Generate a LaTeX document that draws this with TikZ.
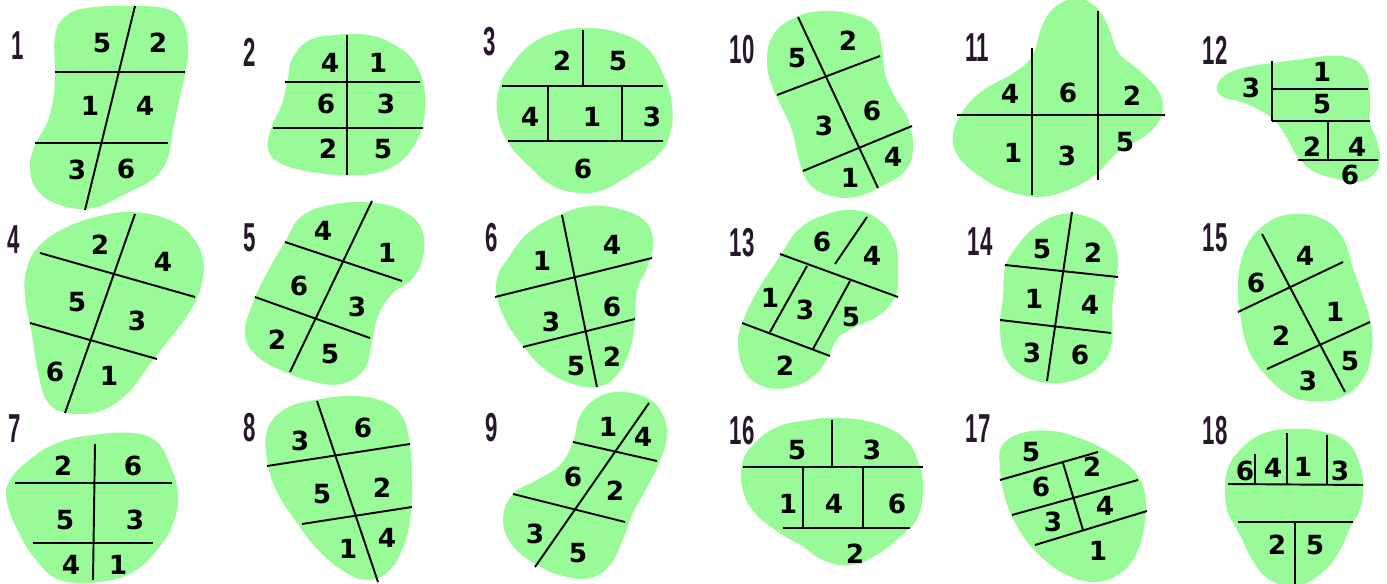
\documentclass[tikz,border=0pt]{standalone}
\usepackage{fontspec}
\newfontfamily\dvfont{DejaVu Sans}
\newfontfamily\lsfont{Liberation Sans}
\definecolor{pg}{RGB}{152,251,152}
\definecolor{labcol}{RGB}{40,22,44}
\tikzset{
  blob/.style={fill=pg, draw=none},
  cut/.style={line width=1.1pt, black},
  num/.style={font=\dvfont\bfseries\fontsize{15}{15}\selectfont, inner sep=0pt, text=black},
  lab/.style={font=\lsfont\bfseries\fontsize{23}{23}\selectfont, inner sep=0pt, text=labcol, xscale=0.55}
}
\begin{document}
\begin{tikzpicture}[x=0.02cm,y=-0.02cm]
\useasboundingbox (0,0) rectangle (1387,584);
% ---------- blob 1
\fill[blob] plot[smooth cycle, tension=0.7] coordinates {(55,36) (65,17) (87,8) (133,6) (167,9) (183,22) (188,48) (185,74) (180,97) (173,130) (167,160) (153,179) (127,193) (93,208) (60,205) (37,190) (30,167) (35,145) (47,123) (53,100) (55,74)};
\draw[cut] (55,72) -- (185,72);
\draw[cut] (35,143) -- (168,143);
\draw[cut] (135,6) -- (85,210);
\node[lab] (l1) at (18,46) {1};
\node[num] (b1n5) at (102,43) {5};
\node[num] (b1n2) at (158,43) {2};
\node[num] (b1n1) at (90,106) {1};
\node[num] (b1n4) at (145,106) {4};
\node[num] (b1n3) at (77,170) {3};
\node[num] (b1n6) at (126,169) {6};
% ---------- blob 4
\fill[blob] plot[smooth cycle, tension=0.7] coordinates {(100,216) (133,212) (167,219) (190,234) (203,260) (200,290) (187,316) (167,342) (147,368) (127,394) (100,411) (67,413) (47,401) (38,372) (32,335) (25,297) (27,268) (40,245) (67,227)};
\draw[cut] (40,253) -- (195,297);
\draw[cut] (30,323) -- (157,359);
\draw[cut] (135,214) -- (65,413);
\node[lab] (l4) at (14,240) {4};
\node[num] (b4n2) at (100,245) {2};
\node[num] (b4n4) at (163,262) {4};
\node[num] (b4n5) at (77,302) {5};
\node[num] (b4n3) at (137,321) {3};
\node[num] (b4n6) at (55,372) {6};
\node[num] (b4n1) at (109,376) {1};
% ---------- blob 7
\fill[blob] plot[smooth cycle, tension=0.7] coordinates {(93,435) (133,433) (157,442) (170,465) (178,494) (173,524) (157,550) (133,572) (100,582) (60,580) (37,561) (20,535) (7,502) (10,480) (33,457) (60,442)};
\draw[cut] (15,483) -- (172,483);
\draw[cut] (33,543) -- (153,543);
\draw[cut] (95,444) -- (93,580);
\node[lab] (l7) at (15,429) {7};
\node[num] (b7n2) at (63,466) {2};
\node[num] (b7n6) at (133,466) {6};
\node[num] (b7n5) at (65,520) {5};
\node[num] (b7n3) at (135,520) {3};
\node[num] (b7n4) at (71,565) {4};
\node[num] (b7n1) at (118,565) {1};
% ---------- blob 2
\fill[blob] plot[smooth cycle, tension=0.7] coordinates {(292,59) (308,41) (335,35) (368,35) (395,45) (415,63) (425,93) (423,123) (412,149) (392,167) (362,175) (318,173) (282,164) (268,149) (272,126) (282,104) (288,78)};
\draw[cut] (285,82) -- (420,82);
\draw[cut] (273,128) -- (423,128);
\draw[cut] (347,35) -- (347,175);
\node[lab] (l2) at (250,52) {2};
\node[num] (b2n4) at (330,63) {4};
\node[num] (b2n1) at (378,63) {1};
\node[num] (b2n6) at (326,104) {6};
\node[num] (b2n3) at (386,104) {3};
\node[num] (b2n2) at (328,149) {2};
\node[num] (b2n5) at (383,149) {5};
% ---------- blob 5
\fill[blob] plot[smooth cycle, tension=0.7] coordinates {(302,216) (335,204) (375,203) (405,212) (422,230) (423,257) (412,279) (392,294) (378,316) (372,342) (365,368) (345,383) (318,383) (285,372) (258,357) (245,335) (252,305) (268,271) (285,242)};
\draw[cut] (285,242) -- (402,281);
\draw[cut] (255,297) -- (370,338);
\draw[cut] (372,201) -- (290,372);
\node[lab] (l5) at (250,238) {5};
\node[num] (b5n4) at (323,231) {4};
\node[num] (b5n1) at (387,253) {1};
\node[num] (b5n6) at (299,286) {6};
\node[num] (b5n3) at (357,307) {3};
\node[num] (b5n2) at (277,340) {2};
\node[num] (b5n5) at (330,354) {5};
% ---------- blob 8
\fill[blob] plot[smooth cycle, tension=0.7] coordinates {(285,409) (315,400) (352,396) (382,401) (402,416) (410,446) (412,483) (410,520) (402,550) (388,572) (368,580) (345,572) (318,550) (295,520) (278,494) (268,465) (267,431)};
\draw[cut] (267,466) -- (410,444);
\draw[cut] (302,524) -- (412,507);
\draw[cut] (317,401) -- (378,582);
\node[lab] (l8) at (250,428) {8};
\node[num] (b8n3) at (300,441) {3};
\node[num] (b8n6) at (363,428) {6};
\node[num] (b8n5) at (322,494) {5};
\node[num] (b8n2) at (382,488) {2};
\node[num] (b8n1) at (348,549) {1};
\node[num] (b8n4) at (387,538) {4};
% ---------- blob 3
\fill[blob] plot[smooth cycle, tension=0.7] coordinates {(510,67) (530,45) (557,32) (587,28) (620,33) (647,48) (663,74) (672,104) (670,134) (657,156) (630,175) (603,190) (580,193) (553,186) (530,167) (507,141) (497,112) (500,86)};
\draw[cut] (502,86) -- (663,86);
\draw[cut] (508,141) -- (663,141);
\draw[cut] (583,30) -- (583,86);
\draw[cut] (548,86) -- (548,141);
\draw[cut] (622,86) -- (622,141);
\node[lab] (l3) at (490,42) {3};
\node[num] (b3n2) at (562,61) {2};
\node[num] (b3n5) at (618,61) {5};
\node[num] (b3n4) at (530,117) {4};
\node[num] (b3n1) at (592,117) {1};
\node[num] (b3n3) at (652,117) {3};
\node[num] (b3n6) at (583,169) {6};
% ---------- blob 6
\fill[blob] plot[smooth cycle, tension=0.7] coordinates {(507,260) (527,234) (557,216) (590,206) (623,210) (647,223) (653,245) (647,268) (637,290) (635,320) (630,349) (617,375) (597,387) (570,383) (543,368) (523,346) (507,323) (497,297) (498,275)};
\draw[cut] (495,297) -- (652,258);
\draw[cut] (523,347) -- (635,319);
\draw[cut] (562,215) -- (597,387);
\node[lab] (l6) at (492,238) {6};
\node[num] (b6n1) at (542,261) {1};
\node[num] (b6n4) at (612,245) {4};
\node[num] (b6n3) at (551,322) {3};
\node[num] (b6n6) at (612,307) {6};
\node[num] (b6n5) at (576,366) {5};
\node[num] (b6n2) at (612,357) {2};
% ---------- blob 9
\fill[blob] plot[smooth cycle, tension=0.7] coordinates {(580,416) (597,398) (620,392) (647,398) (662,413) (667,435) (660,461) (647,487) (633,513) (623,539) (610,565) (590,578) (563,576) (537,565) (513,546) (503,520) (513,494) (537,480) (560,465) (573,442)};
\draw[cut] (573,442) -- (657,461);
\draw[cut] (513,494) -- (625,522);
\draw[cut] (649,403) -- (535,567);
\node[lab] (l9) at (492,428) {9};
\node[num] (b9n1) at (608,427) {1};
\node[num] (b9n4) at (643,437) {4};
\node[num] (b9n6) at (573,477) {6};
\node[num] (b9n2) at (615,491) {2};
\node[num] (b9n3) at (535,534) {3};
\node[num] (b9n5) at (578,553) {5};
% ---------- blob 10
\fill[blob] plot[smooth cycle, tension=0.7] coordinates {(772,37) (792,19) (822,11) (855,15) (875,26) (882,48) (885,74) (895,97) (908,119) (913,149) (905,171) (882,186) (855,197) (828,195) (808,182) (798,156) (792,130) (782,108) (772,86) (767,63)};
\draw[cut] (777,95) -- (880,56);
\draw[cut] (803,171) -- (912,126);
\draw[cut] (798,17) -- (878,188);
\node[lab] (l10) at (742,50) {10};
\node[num] (b10n5) at (797,58) {5};
\node[num] (b10n2) at (848,41) {2};
\node[num] (b10n3) at (824,126) {3};
\node[num] (b10n6) at (872,111) {6};
\node[num] (b10n1) at (850,178) {1};
\node[num] (b10n4) at (893,157) {4};
% ---------- blob 13
\fill[blob] plot[smooth cycle, tension=0.7] coordinates {(782,253) (798,230) (822,216) (852,210) (878,219) (895,242) (898,271) (895,297) (878,316) (855,327) (838,338) (828,357) (815,375) (792,387) (765,387) (745,372) (738,342) (745,316) (758,290) (772,268)};
\draw[cut] (780,254) -- (898,297);
\draw[cut] (742,323) -- (830,356);
\draw[cut] (867,217) -- (835,264);
\draw[cut] (807,266) -- (770,332);
\draw[cut] (850,281) -- (813,349);
\node[lab] (l13) at (742,243) {13};
\node[num] (b13n6) at (822,242) {6};
\node[num] (b13n4) at (872,256) {4};
\node[num] (b13n1) at (770,298) {1};
\node[num] (b13n3) at (805,310) {3};
\node[num] (b13n5) at (851,317) {5};
\node[num] (b13n2) at (785,366) {2};
% ---------- blob 16
\fill[blob] plot[smooth cycle, tension=0.7] coordinates {(752,446) (775,428) (808,420) (842,418) (878,424) (905,439) (918,461) (923,487) (918,517) (902,535) (878,554) (852,565) (825,561) (802,546) (778,532) (755,513) (743,491) (742,465)};
\draw[cut] (743,467) -- (923,467);
\draw[cut] (783,528) -- (910,528);
\draw[cut] (832,420) -- (832,467);
\draw[cut] (803,467) -- (803,528);
\draw[cut] (863,467) -- (863,528);
\node[lab] (l16) at (742,431) {16};
\node[num] (b16n5) at (797,450) {5};
\node[num] (b16n3) at (872,450) {3};
\node[num] (b16n1) at (788,504) {1};
\node[num] (b16n4) at (834,504) {4};
\node[num] (b16n6) at (897,504) {6};
\node[num] (b16n2) at (855,554) {2};
% ---------- blob 11
\fill[blob] plot[smooth cycle, tension=0.7] coordinates {(965,108) (985,89) (1012,74) (1032,56) (1042,26) (1055,7) (1075,-1) (1095,6) (1108,26) (1118,52) (1135,67) (1155,86) (1163,104) (1158,123) (1142,138) (1118,152) (1095,175) (1068,190) (1038,197) (1005,190) (978,175) (958,156) (953,134)};
\draw[cut] (957,115) -- (1165,115);
\draw[cut] (1032,48) -- (1032,195);
\draw[cut] (1098,11) -- (1098,180);
\node[lab] (l11) at (977,48) {11};
\node[num] (b11n4) at (1010,94) {4};
\node[num] (b11n6) at (1068,93) {6};
\node[num] (b11n2) at (1132,96) {2};
\node[num] (b11n1) at (1013,153) {1};
\node[num] (b11n3) at (1067,156) {3};
\node[num] (b11n5) at (1125,142) {5};
% ---------- blob 14
\fill[blob] plot[smooth cycle, tension=0.7] coordinates {(1015,249) (1035,227) (1062,214) (1088,217) (1108,230) (1118,257) (1115,283) (1112,312) (1112,342) (1102,364) (1078,379) (1048,383) (1022,375) (1005,357) (1000,327) (1003,297) (1005,268)};
\draw[cut] (1005,265) -- (1118,277);
\draw[cut] (1000,320) -- (1111,333);
\draw[cut] (1072,212) -- (1047,381);
\node[lab] (l14) at (980,242) {14};
\node[num] (b14n5) at (1042,249) {5};
\node[num] (b14n2) at (1093,253) {2};
\node[num] (b14n1) at (1034,299) {1};
\node[num] (b14n4) at (1090,305) {4};
\node[num] (b14n3) at (1032,353) {3};
\node[num] (b14n6) at (1080,355) {6};
% ---------- blob 17
\fill[blob] plot[smooth cycle, tension=0.7] coordinates {(1002,446) (1022,433) (1052,431) (1082,439) (1112,454) (1135,472) (1145,494) (1145,520) (1138,550) (1122,572) (1095,582) (1065,574) (1038,554) (1018,528) (1005,498) (1000,468)};
\draw[cut] (1000,480) -- (1098,452);
\draw[cut] (1012,515) -- (1138,480);
\draw[cut] (1035,545) -- (1147,511);
\draw[cut] (1063,463) -- (1083,530);
\node[lab] (l17) at (978,429) {17};
\node[num] (b17n5) at (1031,452) {5};
\node[num] (b17n2) at (1092,467) {2};
\node[num] (b17n6) at (1041,487) {6};
\node[num] (b17n4) at (1105,506) {4};
\node[num] (b17n3) at (1053,522) {3};
\node[num] (b17n1) at (1098,551) {1};
% ---------- blob 12
\fill[blob] plot[smooth cycle, tension=0.7] coordinates {(1217,86) (1227,74) (1247,67) (1273,63) (1303,59) (1330,56) (1353,59) (1367,74) (1370,100) (1370,123) (1377,141) (1380,160) (1373,175) (1357,182) (1333,178) (1313,171) (1297,156) (1287,138) (1273,119) (1247,104) (1223,97)};
\draw[cut] (1272,61) -- (1272,121);
\draw[cut] (1272,89) -- (1368,89);
\draw[cut] (1272,121) -- (1370,121);
\draw[cut] (1328,121) -- (1328,160);
\draw[cut] (1298,160) -- (1378,160);
\node[lab] (l12) at (1215,50) {12};
\node[num] (b12n3) at (1251,88) {3};
\node[num] (b12n1) at (1322,72) {1};
\node[num] (b12n5) at (1322,104) {5};
\node[num] (b12n2) at (1312,147) {2};
\node[num] (b12n4) at (1357,147) {4};
\node[num] (b12n6) at (1350,175) {6};
% ---------- blob 15
\fill[blob] plot[smooth cycle, tension=0.7] coordinates {(1247,245) (1267,223) (1293,214) (1323,219) (1343,238) (1353,268) (1362,294) (1370,320) (1372,349) (1363,379) (1340,398) (1310,401) (1287,394) (1263,372) (1247,346) (1240,312) (1238,279)};
\draw[cut] (1238,312) -- (1343,262);
\draw[cut] (1267,369) -- (1370,322);
\draw[cut] (1262,234) -- (1345,392);
\node[lab] (l15) at (1215,238) {15};
\node[num] (b15n4) at (1305,256) {4};
\node[num] (b15n6) at (1256,283) {6};
\node[num] (b15n1) at (1335,312) {1};
\node[num] (b15n2) at (1281,336) {2};
\node[num] (b15n5) at (1350,361) {5};
\node[num] (b15n3) at (1308,381) {3};
% ---------- blob 18
\fill[blob] plot[smooth cycle, tension=0.7] coordinates {(1240,450) (1260,435) (1287,429) (1320,431) (1347,442) (1360,465) (1363,487) (1360,509) (1350,528) (1340,550) (1323,572) (1297,586) (1270,580) (1253,561) (1240,535) (1228,513) (1225,491) (1228,468)};
\draw[cut] (1228,484) -- (1363,485);
\draw[cut] (1238,522) -- (1353,522);
\draw[cut] (1255,454) -- (1255,484);
\draw[cut] (1287,433) -- (1287,485);
\draw[cut] (1327,435) -- (1327,485);
\draw[cut] (1295,522) -- (1295,584);
\node[lab] (l18) at (1215,431) {18};
\node[num] (b18n6) at (1245,471) {6};
\node[num] (b18n4) at (1273,468) {4};
\node[num] (b18n1) at (1303,467) {1};
\node[num] (b18n3) at (1340,471) {3};
\node[num] (b18n2) at (1277,545) {2};
\node[num] (b18n5) at (1315,545) {5};
\end{tikzpicture}
\end{document}
